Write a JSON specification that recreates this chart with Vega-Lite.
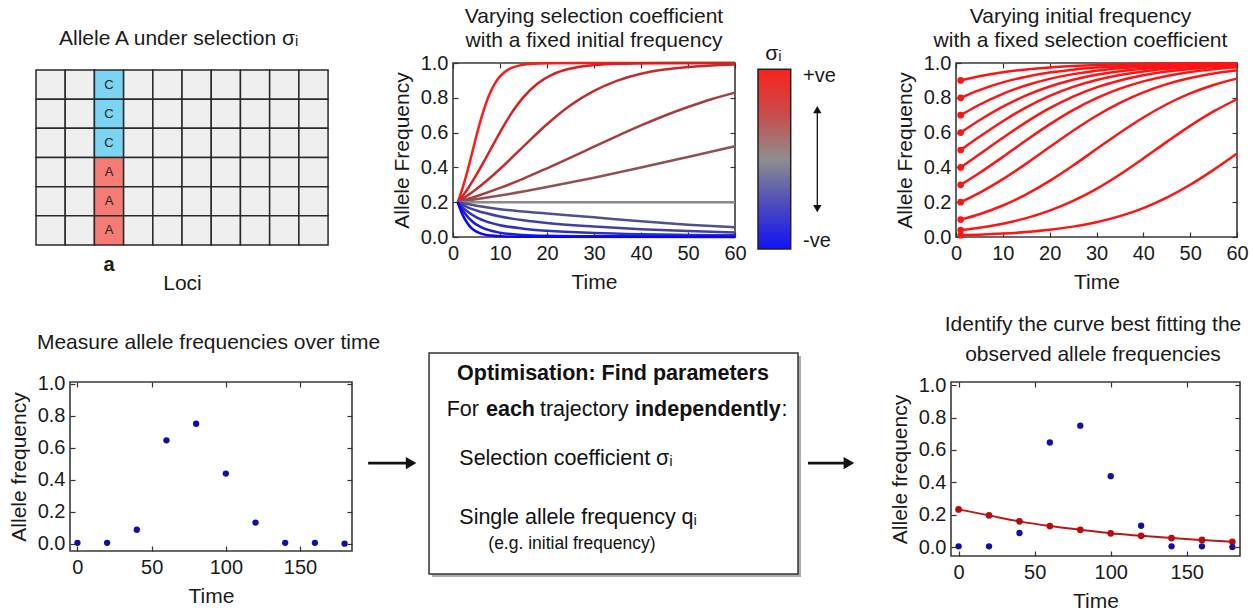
{
"$schema":"https://vega.github.io/schema/vega-lite/v6.json",
"background":"white",
"padding":{"left":7,"top":5,"right":5,"bottom":5},
"bounds":"flush",
"spacing":319,
"datasets":{
"loci":[
{"locus":0,"seq":1,"base":""},{"locus":1,"seq":1,"base":""},{"locus":2,"seq":1,"base":"C"},{"locus":3,"seq":1,"base":""},{"locus":4,"seq":1,"base":""},{"locus":5,"seq":1,"base":""},{"locus":6,"seq":1,"base":""},{"locus":7,"seq":1,"base":""},{"locus":8,"seq":1,"base":""},{"locus":9,"seq":1,"base":""},
{"locus":0,"seq":2,"base":""},{"locus":1,"seq":2,"base":""},{"locus":2,"seq":2,"base":"C"},{"locus":3,"seq":2,"base":""},{"locus":4,"seq":2,"base":""},{"locus":5,"seq":2,"base":""},{"locus":6,"seq":2,"base":""},{"locus":7,"seq":2,"base":""},{"locus":8,"seq":2,"base":""},{"locus":9,"seq":2,"base":""},
{"locus":0,"seq":3,"base":""},{"locus":1,"seq":3,"base":""},{"locus":2,"seq":3,"base":"C"},{"locus":3,"seq":3,"base":""},{"locus":4,"seq":3,"base":""},{"locus":5,"seq":3,"base":""},{"locus":6,"seq":3,"base":""},{"locus":7,"seq":3,"base":""},{"locus":8,"seq":3,"base":""},{"locus":9,"seq":3,"base":""},
{"locus":0,"seq":4,"base":""},{"locus":1,"seq":4,"base":""},{"locus":2,"seq":4,"base":"A"},{"locus":3,"seq":4,"base":""},{"locus":4,"seq":4,"base":""},{"locus":5,"seq":4,"base":""},{"locus":6,"seq":4,"base":""},{"locus":7,"seq":4,"base":""},{"locus":8,"seq":4,"base":""},{"locus":9,"seq":4,"base":""},
{"locus":0,"seq":5,"base":""},{"locus":1,"seq":5,"base":""},{"locus":2,"seq":5,"base":"A"},{"locus":3,"seq":5,"base":""},{"locus":4,"seq":5,"base":""},{"locus":5,"seq":5,"base":""},{"locus":6,"seq":5,"base":""},{"locus":7,"seq":5,"base":""},{"locus":8,"seq":5,"base":""},{"locus":9,"seq":5,"base":""},
{"locus":0,"seq":6,"base":""},{"locus":1,"seq":6,"base":""},{"locus":2,"seq":6,"base":"A"},{"locus":3,"seq":6,"base":""},{"locus":4,"seq":6,"base":""},{"locus":5,"seq":6,"base":""},{"locus":6,"seq":6,"base":""},{"locus":7,"seq":6,"base":""},{"locus":8,"seq":6,"base":""},{"locus":9,"seq":6,"base":""}
],
"selection":[
{"curve":"c1","t":1,"q":0.2},{"curve":"c1","t":2,"q":0.278},{"curve":"c1","t":3,"q":0.371},{"curve":"c1","t":4,"q":0.476},{"curve":"c1","t":5,"q":0.583},{"curve":"c1","t":6,"q":0.682},{"curve":"c1","t":7,"q":0.767},{"curve":"c1","t":8,"q":0.835},{"curve":"c1","t":9,"q":0.886},{"curve":"c1","t":10,"q":0.923},{"curve":"c1","t":12,"q":0.966},{"curve":"c1","t":14,"q":0.985},{"curve":"c1","t":17,"q":0.996},{"curve":"c1","t":20,"q":0.999},{"curve":"c1","t":30,"q":1},{"curve":"c1","t":45,"q":1},{"curve":"c1","t":60,"q":1},
{"curve":"c2","t":1,"q":0.2},{"curve":"c2","t":3,"q":0.272},{"curve":"c2","t":5,"q":0.358},{"curve":"c2","t":7,"q":0.454},{"curve":"c2","t":9,"q":0.553},{"curve":"c2","t":11,"q":0.649},{"curve":"c2","t":13,"q":0.734},{"curve":"c2","t":15,"q":0.804},{"curve":"c2","t":18,"q":0.882},{"curve":"c2","t":21,"q":0.932},{"curve":"c2","t":25,"q":0.968},{"curve":"c2","t":30,"q":0.988},{"curve":"c2","t":35,"q":0.996},{"curve":"c2","t":40,"q":0.998},{"curve":"c2","t":50,"q":1},{"curve":"c2","t":60,"q":1},
{"curve":"c3","t":1,"q":0.2},{"curve":"c3","t":5,"q":0.276},{"curve":"c3","t":10,"q":0.391},{"curve":"c3","t":15,"q":0.521},{"curve":"c3","t":20,"q":0.648},{"curve":"c3","t":25,"q":0.757},{"curve":"c3","t":30,"q":0.84},{"curve":"c3","t":35,"q":0.899},{"curve":"c3","t":40,"q":0.938},{"curve":"c3","t":45,"q":0.962},{"curve":"c3","t":50,"q":0.977},{"curve":"c3","t":55,"q":0.986},{"curve":"c3","t":60,"q":0.992},
{"curve":"c4","t":1,"q":0.2},{"curve":"c4","t":5,"q":0.234},{"curve":"c4","t":10,"q":0.282},{"curve":"c4","t":15,"q":0.336},{"curve":"c4","t":20,"q":0.395},{"curve":"c4","t":25,"q":0.456},{"curve":"c4","t":30,"q":0.519},{"curve":"c4","t":35,"q":0.581},{"curve":"c4","t":40,"q":0.641},{"curve":"c4","t":45,"q":0.697},{"curve":"c4","t":50,"q":0.747},{"curve":"c4","t":55,"q":0.792},{"curve":"c4","t":60,"q":0.83},
{"curve":"c5","t":1,"q":0.2},{"curve":"c5","t":10,"q":0.238},{"curve":"c5","t":20,"q":0.287},{"curve":"c5","t":30,"q":0.341},{"curve":"c5","t":40,"q":0.399},{"curve":"c5","t":50,"q":0.46},{"curve":"c5","t":60,"q":0.522},
{"curve":"g","t":1,"q":0.2},{"curve":"g","t":60,"q":0.2},
{"curve":"b1","t":1,"q":0.2},{"curve":"b1","t":5,"q":0.18},{"curve":"b1","t":10,"q":0.16},{"curve":"b1","t":20,"q":0.135},{"curve":"b1","t":30,"q":0.113},{"curve":"b1","t":40,"q":0.09},{"curve":"b1","t":50,"q":0.071},{"curve":"b1","t":60,"q":0.056},
{"curve":"b2","t":1,"q":0.2},{"curve":"b2","t":3,"q":0.172},{"curve":"b2","t":5,"q":0.152},{"curve":"b2","t":10,"q":0.118},{"curve":"b2","t":15,"q":0.096},{"curve":"b2","t":20,"q":0.08},{"curve":"b2","t":30,"q":0.06},{"curve":"b2","t":40,"q":0.045},{"curve":"b2","t":50,"q":0.034},{"curve":"b2","t":60,"q":0.026},
{"curve":"b3","t":1,"q":0.2},{"curve":"b3","t":2,"q":0.172},{"curve":"b3","t":3,"q":0.148},{"curve":"b3","t":5,"q":0.113},{"curve":"b3","t":7,"q":0.09},{"curve":"b3","t":10,"q":0.068},{"curve":"b3","t":15,"q":0.048},{"curve":"b3","t":20,"q":0.036},{"curve":"b3","t":30,"q":0.023},{"curve":"b3","t":40,"q":0.016},{"curve":"b3","t":50,"q":0.012},{"curve":"b3","t":60,"q":0.01},
{"curve":"b4","t":1,"q":0.2},{"curve":"b4","t":2,"q":0.155},{"curve":"b4","t":3,"q":0.12},{"curve":"b4","t":4,"q":0.092},{"curve":"b4","t":5,"q":0.071},{"curve":"b4","t":7,"q":0.045},{"curve":"b4","t":10,"q":0.025},{"curve":"b4","t":15,"q":0.012},{"curve":"b4","t":20,"q":0.007},{"curve":"b4","t":30,"q":0.004},{"curve":"b4","t":60,"q":0.003},
{"curve":"b5","t":1,"q":0.2},{"curve":"b5","t":2,"q":0.13},{"curve":"b5","t":3,"q":0.082},{"curve":"b5","t":4,"q":0.05},{"curve":"b5","t":5,"q":0.031},{"curve":"b5","t":6,"q":0.019},{"curve":"b5","t":8,"q":0.008},{"curve":"b5","t":10,"q":0.004},{"curve":"b5","t":15,"q":0.001},{"curve":"b5","t":60,"q":0}
],
"initial":[
{"start":"0.9","t":1,"q":0.9},{"start":"0.9","t":5,"q":0.9244},{"start":"0.9","t":10,"q":0.9471},{"start":"0.9","t":15,"q":0.9633},{"start":"0.9","t":20,"q":0.9747},{"start":"0.9","t":25,"q":0.9826},{"start":"0.9","t":30,"q":0.9881},{"start":"0.9","t":35,"q":0.9918},{"start":"0.9","t":40,"q":0.9944},{"start":"0.9","t":45,"q":0.9962},{"start":"0.9","t":50,"q":0.9974},{"start":"0.9","t":55,"q":0.9982},{"start":"0.9","t":60,"q":0.9988},
{"start":"0.8","t":1,"q":0.8},{"start":"0.8","t":5,"q":0.8445},{"start":"0.8","t":10,"q":0.8884},{"start":"0.8","t":15,"q":0.9211},{"start":"0.8","t":20,"q":0.9448},{"start":"0.8","t":25,"q":0.9617},{"start":"0.8","t":30,"q":0.9735},{"start":"0.8","t":35,"q":0.9818},{"start":"0.8","t":40,"q":0.9875},{"start":"0.8","t":45,"q":0.9914},{"start":"0.8","t":50,"q":0.9941},{"start":"0.8","t":55,"q":0.996},{"start":"0.8","t":60,"q":0.9973},
{"start":"0.7","t":1,"q":0.7},{"start":"0.7","t":5,"q":0.7601},{"start":"0.7","t":10,"q":0.8229},{"start":"0.7","t":15,"q":0.8719},{"start":"0.7","t":20,"q":0.9089},{"start":"0.7","t":25,"q":0.9361},{"start":"0.7","t":30,"q":0.9555},{"start":"0.7","t":35,"q":0.9692},{"start":"0.7","t":40,"q":0.9788},{"start":"0.7","t":45,"q":0.9854},{"start":"0.7","t":50,"q":0.99},{"start":"0.7","t":55,"q":0.9932},{"start":"0.7","t":60,"q":0.9953},
{"start":"0.6","t":1,"q":0.6},{"start":"0.6","t":5,"q":0.6707},{"start":"0.6","t":10,"q":0.7491},{"start":"0.6","t":15,"q":0.814},{"start":"0.6","t":20,"q":0.8652},{"start":"0.6","t":25,"q":0.9039},{"start":"0.6","t":30,"q":0.9324},{"start":"0.6","t":35,"q":0.9529},{"start":"0.6","t":40,"q":0.9674},{"start":"0.6","t":45,"q":0.9775},{"start":"0.6","t":50,"q":0.9845},{"start":"0.6","t":55,"q":0.9894},{"start":"0.6","t":60,"q":0.9927},
{"start":"0.5","t":1,"q":0.5},{"start":"0.5","t":5,"q":0.5759},{"start":"0.5","t":10,"q":0.6656},{"start":"0.5","t":15,"q":0.7448},{"start":"0.5","t":20,"q":0.8106},{"start":"0.5","t":25,"q":0.8625},{"start":"0.5","t":30,"q":0.9019},{"start":"0.5","t":35,"q":0.9309},{"start":"0.5","t":40,"q":0.9518},{"start":"0.5","t":45,"q":0.9666},{"start":"0.5","t":50,"q":0.977},{"start":"0.5","t":55,"q":0.9842},{"start":"0.5","t":60,"q":0.9892},
{"start":"0.4","t":1,"q":0.4},{"start":"0.4","t":5,"q":0.4751},{"start":"0.4","t":10,"q":0.5703},{"start":"0.4","t":15,"q":0.6605},{"start":"0.4","t":20,"q":0.7404},{"start":"0.4","t":25,"q":0.807},{"start":"0.4","t":30,"q":0.8597},{"start":"0.4","t":35,"q":0.8998},{"start":"0.4","t":40,"q":0.9294},{"start":"0.4","t":45,"q":0.9508},{"start":"0.4","t":50,"q":0.9659},{"start":"0.4","t":55,"q":0.9765},{"start":"0.4","t":60,"q":0.9838},
{"start":"0.3","t":1,"q":0.3},{"start":"0.3","t":5,"q":0.3679},{"start":"0.3","t":10,"q":0.4604},{"start":"0.3","t":15,"q":0.5557},{"start":"0.3","t":20,"q":0.6471},{"start":"0.3","t":25,"q":0.7289},{"start":"0.3","t":30,"q":0.7975},{"start":"0.3","t":35,"q":0.8524},{"start":"0.3","t":40,"q":0.8944},{"start":"0.3","t":45,"q":0.9254},{"start":"0.3","t":50,"q":0.9479},{"start":"0.3","t":55,"q":0.9639},{"start":"0.3","t":60,"q":0.9751},
{"start":"0.2","t":1,"q":0.2},{"start":"0.2","t":5,"q":0.2534},{"start":"0.2","t":10,"q":0.3323},{"start":"0.2","t":15,"q":0.4218},{"start":"0.2","t":20,"q":0.5168},{"start":"0.2","t":25,"q":0.6107},{"start":"0.2","t":30,"q":0.6968},{"start":"0.2","t":35,"q":0.7711},{"start":"0.2","t":40,"q":0.8316},{"start":"0.2","t":45,"q":0.8787},{"start":"0.2","t":50,"q":0.9139},{"start":"0.2","t":55,"q":0.9396},{"start":"0.2","t":60,"q":0.958},
{"start":"0.1","t":1,"q":0.1},{"start":"0.1","t":5,"q":0.1311},{"start":"0.1","t":10,"q":0.1811},{"start":"0.1","t":15,"q":0.2448},{"start":"0.1","t":20,"q":0.3222},{"start":"0.1","t":25,"q":0.4107},{"start":"0.1","t":30,"q":0.5053},{"start":"0.1","t":35,"q":0.5996},{"start":"0.1","t":40,"q":0.687},{"start":"0.1","t":45,"q":0.7629},{"start":"0.1","t":50,"q":0.8251},{"start":"0.1","t":55,"q":0.8736},{"start":"0.1","t":60,"q":0.9102},
{"start":"0.04","t":1,"q":0.04},{"start":"0.04","t":5,"q":0.0535},{"start":"0.04","t":10,"q":0.0766},{"start":"0.04","t":15,"q":0.1084},{"start":"0.04","t":20,"q":0.1513},{"start":"0.04","t":25,"q":0.2072},{"start":"0.04","t":30,"q":0.2769},{"start":"0.04","t":35,"q":0.3596},{"start":"0.04","t":40,"q":0.4515},{"start":"0.04","t":45,"q":0.5468},{"start":"0.04","t":50,"q":0.6389},{"start":"0.04","t":55,"q":0.7217},{"start":"0.04","t":60,"q":0.7917},
{"start":"0.01","t":1,"q":0.01},{"start":"0.01","t":5,"q":0.0135},{"start":"0.01","t":10,"q":0.0197},{"start":"0.01","t":15,"q":0.0286},{"start":"0.01","t":20,"q":0.0414},{"start":"0.01","t":25,"q":0.0596},{"start":"0.01","t":30,"q":0.085},{"start":"0.01","t":35,"q":0.1198},{"start":"0.01","t":40,"q":0.1664},{"start":"0.01","t":45,"q":0.2263},{"start":"0.01","t":50,"q":0.3002},{"start":"0.01","t":55,"q":0.386},{"start":"0.01","t":60,"q":0.4796}
],
"observed":[
{"t":0,"q":0.005},{"t":20,"q":0.005},{"t":40,"q":0.087},{"t":60,"q":0.646},{"t":80,"q":0.75},{"t":100,"q":0.438},{"t":120,"q":0.132},{"t":140,"q":0.005},{"t":160,"q":0.005},{"t":180,"q":0.0}
],
"fitted":[
{"t":0,"q":0.233},{"t":20,"q":0.196},{"t":40,"q":0.159},{"t":60,"q":0.13},{"t":80,"q":0.107},{"t":100,"q":0.085},{"t":120,"q":0.07},{"t":140,"q":0.056},{"t":160,"q":0.044},{"t":180,"q":0.033}
],
"boxHead":[{"text":"Optimisation: Find parameters","x":43.23,"y":104.6}],
"boxBody":[{"text":"For","x":14.01,"y":83.9},{"text":"trajectory","x":30.4,"y":83.9},{"text":":","x":72.85,"y":83.9},{"text":"Selection coefficient σᵢ","x":16.22,"y":55.7},{"text":"Single allele frequency qᵢ","x":16.22,"y":21.8}],
"boxBold":[{"text":"each","x":20.91,"y":83.9},{"text":"independently","x":47.1,"y":83.9}],
"boxNote":[{"text":"(e.g. initial frequency)","x":21.32,"y":6.9}],
"cbLabels":[{"text":"+ve","x":1.376,"y":0.925},{"text":"-ve","x":1.376,"y":-0.91}],
"cbTitle":[{"text":"σᵢ","x":0.47,"y":1.17}]
},
"vconcat":[
{"bounds":"flush","spacing":23,"hconcat":[
 {
  "width":394,"height":182,
  "view":{"stroke":null},
  "title":{"text":"Allele A under selection σᵢ","anchor":"start","dx":23,"offset":14},
  "data":{"name":"loci"},
  "encoding":{
   "x":{"field":"locus","type":"ordinal","scale":{"type":"band","domain":[0,1,2,3,4,5,6,7,8,9,10,11,12],"paddingInner":0,"paddingOuter":0.245,"align":0},"axis":{"title":"Loci","labelExpr":"datum.value == 2 ? 'a' : ''","labelFontWeight":"bold","labelAngle":0,"ticks":false,"labelPadding":9,"titleX":146,"titlePadding":-2}},
   "y":{"field":"seq","type":"ordinal","scale":{"type":"band","paddingInner":0,"paddingOuter":0.12,"align":1},"axis":null}
  },
  "layer":[
   {"mark":{"type":"rect","stroke":"#2a2a2a","strokeWidth":1.5},"encoding":{"fill":{"field":"base","type":"nominal","scale":{"domain":["","C","A"],"range":["#efefef","#7bd5f2","#f47c74"]},"legend":null}}},
   {"mark":{"type":"text","fontSize":13,"color":"#222"},"encoding":{"text":{"field":"base"}}}
  ]
 },
 {
  "width":282,"height":174,
  "title":{"text":["Varying selection coefficient","with a fixed initial frequency"],"lineHeight":24,"offset":2},
  "data":{"name":"selection"},
  "layer":[
   {"mark":{"type":"line","interpolate":"monotone","strokeWidth":2.5},
    "encoding":{
     "x":{"field":"t","type":"quantitative","scale":{"domain":[0,60],"nice":false},"axis":{"values":[0,10,20,30,40,50,60],"title":"Time"}},
     "y":{"field":"q","type":"quantitative","scale":{"domain":[0,1],"nice":false},"axis":{"values":[0,0.2,0.4,0.6,0.8,1],"format":".1f","title":"Allele Frequency"}},
     "color":{"field":"curve","type":"nominal","scale":{"domain":["c1","c2","c3","c4","c5","g","b1","b2","b3","b4","b5"],"range":["#ff1a1a","#d92020","#bd2e2e","#a53e3e","#945050","#8a8a8a","#50508e","#4040a6","#3030c0","#1e1eda","#0606f8"]},"legend":null}}},
   {"mark":{"type":"line","opacity":0},
    "encoding":{
     "x":{"field":"t","type":"quantitative","axis":{"orient":"top","labels":false,"title":null,"values":[0,10,20,30,40,50,60]}},
     "y":{"field":"q","type":"quantitative","axis":{"orient":"right","labels":false,"title":null,"values":[0,0.2,0.4,0.6,0.8,1]}},
     "detail":{"field":"curve","type":"nominal"}}}
  ],
  "resolve":{"axis":{"x":"independent","y":"independent"}}
 },
 {
  "width":175,"height":186,
  "view":{"stroke":null},
  "data":{"values":[{}]},
  "layer":[
   {"mark":{"type":"rect","fill":{"gradient":"linear","x1":0,"y1":0,"x2":0,"y2":1,"stops":[{"offset":0,"color":"#f8241c"},{"offset":0.25,"color":"#c84c4c"},{"offset":0.5,"color":"#8e8e8e"},{"offset":0.75,"color":"#4c4cbc"},{"offset":1,"color":"#1212f8"}]},"stroke":"#222","strokeWidth":1.5},
    "encoding":{"x":{"datum":0,"type":"quantitative","scale":{"domain":[0,5.35],"nice":false},"axis":null},"x2":{"datum":1},"y":{"datum":-1,"type":"quantitative","scale":{"domain":[-1,1.07],"nice":false},"axis":null},"y2":{"datum":1}}},
   {"mark":{"type":"rule","color":"#111","strokeWidth":1.3},
    "encoding":{"x":{"datum":1.813,"type":"quantitative","axis":null},"y":{"datum":-0.54,"type":"quantitative","axis":null},"y2":{"datum":0.54}}},
   {"mark":{"type":"point","shape":"triangle-up","filled":true,"color":"#111","size":70,"opacity":1},
    "encoding":{"x":{"datum":1.813,"type":"quantitative","axis":null},"y":{"datum":0.55,"type":"quantitative","axis":null}}},
   {"mark":{"type":"point","shape":"triangle-down","filled":true,"color":"#111","size":70,"opacity":1},
    "encoding":{"x":{"datum":1.813,"type":"quantitative","axis":null},"y":{"datum":-0.55,"type":"quantitative","axis":null}}},
   {"data":{"name":"cbLabels"},"mark":{"type":"text","align":"left","baseline":"middle","fontSize":20,"color":"#1a1a1a"},
    "encoding":{"x":{"field":"x","type":"quantitative","axis":null},"y":{"field":"y","type":"quantitative","axis":null},"text":{"field":"text"}}},
   {"data":{"name":"cbTitle"},"mark":{"type":"text","align":"center","baseline":"middle","fontSize":21,"color":"#1a1a1a"},
    "encoding":{"x":{"field":"x","type":"quantitative","axis":null},"y":{"field":"y","type":"quantitative","axis":null},"text":{"field":"text"}}}
  ]
 },
 {
  "width":281,"height":174,
  "title":{"text":["Varying initial frequency","with a fixed selection coefficient"],"lineHeight":24,"offset":2,"dx":-16},
  "data":{"name":"initial"},
  "layer":[
   {"mark":{"type":"line","interpolate":"monotone","strokeWidth":2.5,"color":"#ff1414"},
    "encoding":{
     "x":{"field":"t","type":"quantitative","scale":{"domain":[0,60],"nice":false},"axis":{"values":[0,10,20,30,40,50,60],"title":"Time"}},
     "y":{"field":"q","type":"quantitative","scale":{"domain":[0,1],"nice":false},"axis":{"values":[0,0.2,0.4,0.6,0.8,1],"format":".1f","title":"Allele Frequency"}},
     "detail":{"field":"start","type":"nominal"}}},
   {"transform":[{"filter":"datum.t == 1"}],
    "mark":{"type":"circle","size":45,"color":"#ff1414","opacity":1},
    "encoding":{
     "x":{"field":"t","type":"quantitative","axis":{"orient":"top","labels":false,"title":null,"values":[0,10,20,30,40,50,60]}},
     "y":{"field":"q","type":"quantitative","axis":{"orient":"right","labels":false,"title":null,"values":[0,0.2,0.4,0.6,0.8,1]}}}}
  ],
  "resolve":{"axis":{"x":"independent","y":"independent"}}
 }
]},
{"bounds":"flush","spacing":15,"hconcat":[
 {"width":19,"height":10,"view":{"stroke":null},"data":{"values":[{}]},"mark":{"type":"point","opacity":0},"encoding":{}},
 {
  "width":282,"height":169,
  "title":{"text":"Measure allele frequencies over time","offset":21,"dx":-2.5},
  "data":{"name":"observed"},
  "layer":[
   {"mark":{"type":"circle","size":40,"color":"#1010a8","opacity":1},
    "encoding":{
     "x":{"field":"t","type":"quantitative","scale":{"domain":[-5,185],"nice":false},"axis":{"values":[0,50,100,150],"title":"Time"}},
     "y":{"field":"q","type":"quantitative","scale":{"domain":[-0.046,1.011],"nice":false,"zero":false},"axis":{"values":[0,0.2,0.4,0.6,0.8,1],"format":".1f","title":"Allele frequency"}}}},
   {"mark":{"type":"circle","opacity":0},
    "encoding":{
     "x":{"field":"t","type":"quantitative","axis":{"orient":"top","labels":false,"title":null,"values":[0,50,100,150]}},
     "y":{"field":"q","type":"quantitative","axis":{"orient":"right","labels":false,"title":null,"values":[0,0.2,0.4,0.6,0.8,1]}}}}
  ],
  "resolve":{"axis":{"x":"independent","y":"independent"}}
 },
 {
  "width":569,"height":174,
  "view":{"stroke":null},
  "data":{"values":[{}]},
  "layer":[
   {"mark":{"type":"rect","color":"#8a8a8a","opacity":0.7},
    "encoding":{"x":{"datum":11.43,"type":"quantitative","scale":{"domain":[0,100],"nice":false},"axis":null},"x2":{"datum":76.28},"y":{"datum":-12.0,"type":"quantitative","scale":{"domain":[0,100],"nice":false},"axis":null},"y2":{"datum":115.0}}},
   {"mark":{"type":"rect","fill":"white","stroke":"#333","strokeWidth":1.5},
    "encoding":{"x":{"datum":10.9,"type":"quantitative","axis":null},"x2":{"datum":75.75},"y":{"datum":-10.3,"type":"quantitative","axis":null},"y2":{"datum":116.7}}},
   {"mark":{"type":"rule","color":"#111","strokeWidth":2.6},
    "encoding":{"x":{"datum":0.2,"type":"quantitative","axis":null},"x2":{"datum":7.8},"y":{"datum":53.4,"type":"quantitative","axis":null}}},
   {"mark":{"type":"point","shape":"triangle-right","filled":true,"color":"#111","size":150,"opacity":1},
    "encoding":{"x":{"datum":7.75,"type":"quantitative","axis":null},"y":{"datum":53.4,"type":"quantitative","axis":null}}},
   {"mark":{"type":"rule","color":"#111","strokeWidth":2.6},
    "encoding":{"x":{"datum":77.5,"type":"quantitative","axis":null},"x2":{"datum":84.8},"y":{"datum":53.4,"type":"quantitative","axis":null}}},
   {"mark":{"type":"point","shape":"triangle-right","filled":true,"color":"#111","size":150,"opacity":1},
    "encoding":{"x":{"datum":84.7,"type":"quantitative","axis":null},"y":{"datum":53.4,"type":"quantitative","axis":null}}},
   {"data":{"name":"boxHead"},"mark":{"type":"text","align":"center","baseline":"middle","fontSize":21.5,"fontWeight":"bold","color":"#111"},
    "encoding":{"x":{"field":"x","type":"quantitative","axis":null},"y":{"field":"y","type":"quantitative","axis":null},"text":{"field":"text"}}},
   {"data":{"name":"boxBody"},"mark":{"type":"text","align":"left","baseline":"middle","fontSize":21.5,"color":"#111"},
    "encoding":{"x":{"field":"x","type":"quantitative","axis":null},"y":{"field":"y","type":"quantitative","axis":null},"text":{"field":"text"}}},
   {"data":{"name":"boxBold"},"mark":{"type":"text","align":"left","baseline":"middle","fontSize":21.5,"fontWeight":"bold","color":"#111"},
    "encoding":{"x":{"field":"x","type":"quantitative","axis":null},"y":{"field":"y","type":"quantitative","axis":null},"text":{"field":"text"}}},
   {"data":{"name":"boxNote"},"mark":{"type":"text","align":"left","baseline":"middle","fontSize":17.5,"color":"#111"},
    "encoding":{"x":{"field":"x","type":"quantitative","axis":null},"y":{"field":"y","type":"quantitative","axis":null},"text":{"field":"text"}}}
  ]
 },
 {
  "width":289,"height":174,
  "title":{"text":["Identify the curve best fitting the","observed allele frequencies"],"lineHeight":30,"offset":10,"dx":-2.5},
  "layer":[
   {"data":{"name":"fitted"},"mark":{"type":"line","interpolate":"monotone","strokeWidth":2,"color":"#b81818"},
    "encoding":{
     "x":{"field":"t","type":"quantitative","scale":{"domain":[-5,185],"nice":false},"axis":{"values":[0,50,100,150],"title":"Time"}},
     "y":{"field":"q","type":"quantitative","scale":{"domain":[-0.055,1.02],"nice":false,"zero":false},"axis":{"values":[0,0.2,0.4,0.6,0.8,1],"format":".1f","title":"Allele frequency"}}}},
   {"data":{"name":"fitted"},"mark":{"type":"circle","size":45,"color":"#b80c0c","opacity":1},
    "encoding":{
     "x":{"field":"t","type":"quantitative","axis":{"orient":"top","labels":false,"title":null,"values":[0,50,100,150]}},
     "y":{"field":"q","type":"quantitative","axis":{"orient":"right","labels":false,"title":null,"values":[0,0.2,0.4,0.6,0.8,1]}}}},
   {"data":{"name":"observed"},"mark":{"type":"circle","size":40,"color":"#1010a8","opacity":1},
    "encoding":{
     "x":{"field":"t","type":"quantitative","axis":null},
     "y":{"field":"q","type":"quantitative","axis":null}}}
  ],
  "resolve":{"axis":{"x":"independent","y":"independent"}}
 }
]}
],
"config":{
 "font":"Liberation Sans",
 "view":{"stroke":"#3a3a3a","strokeWidth":1.6},
 "axis":{"labelFont":"Liberation Sans","labelFontSize":20,"labelColor":"#1a1a1a","titleFont":"Liberation Sans","titleFontSize":21,"titleFontWeight":"normal","titleColor":"#1a1a1a","domain":false,"grid":false,"tickColor":"#333","tickSize":-5,"tickWidth":1.2,"labelFlush":false,"labelOverlap":false},
 "axisX":{"labelPadding":11,"titlePadding":8},
 "axisY":{"labelPadding":10,"titlePadding":8},
 "title":{"font":"Liberation Sans","fontSize":21,"fontWeight":"normal","color":"#1a1a1a","frame":"group"},
 "text":{"font":"Liberation Sans"}
}
}
